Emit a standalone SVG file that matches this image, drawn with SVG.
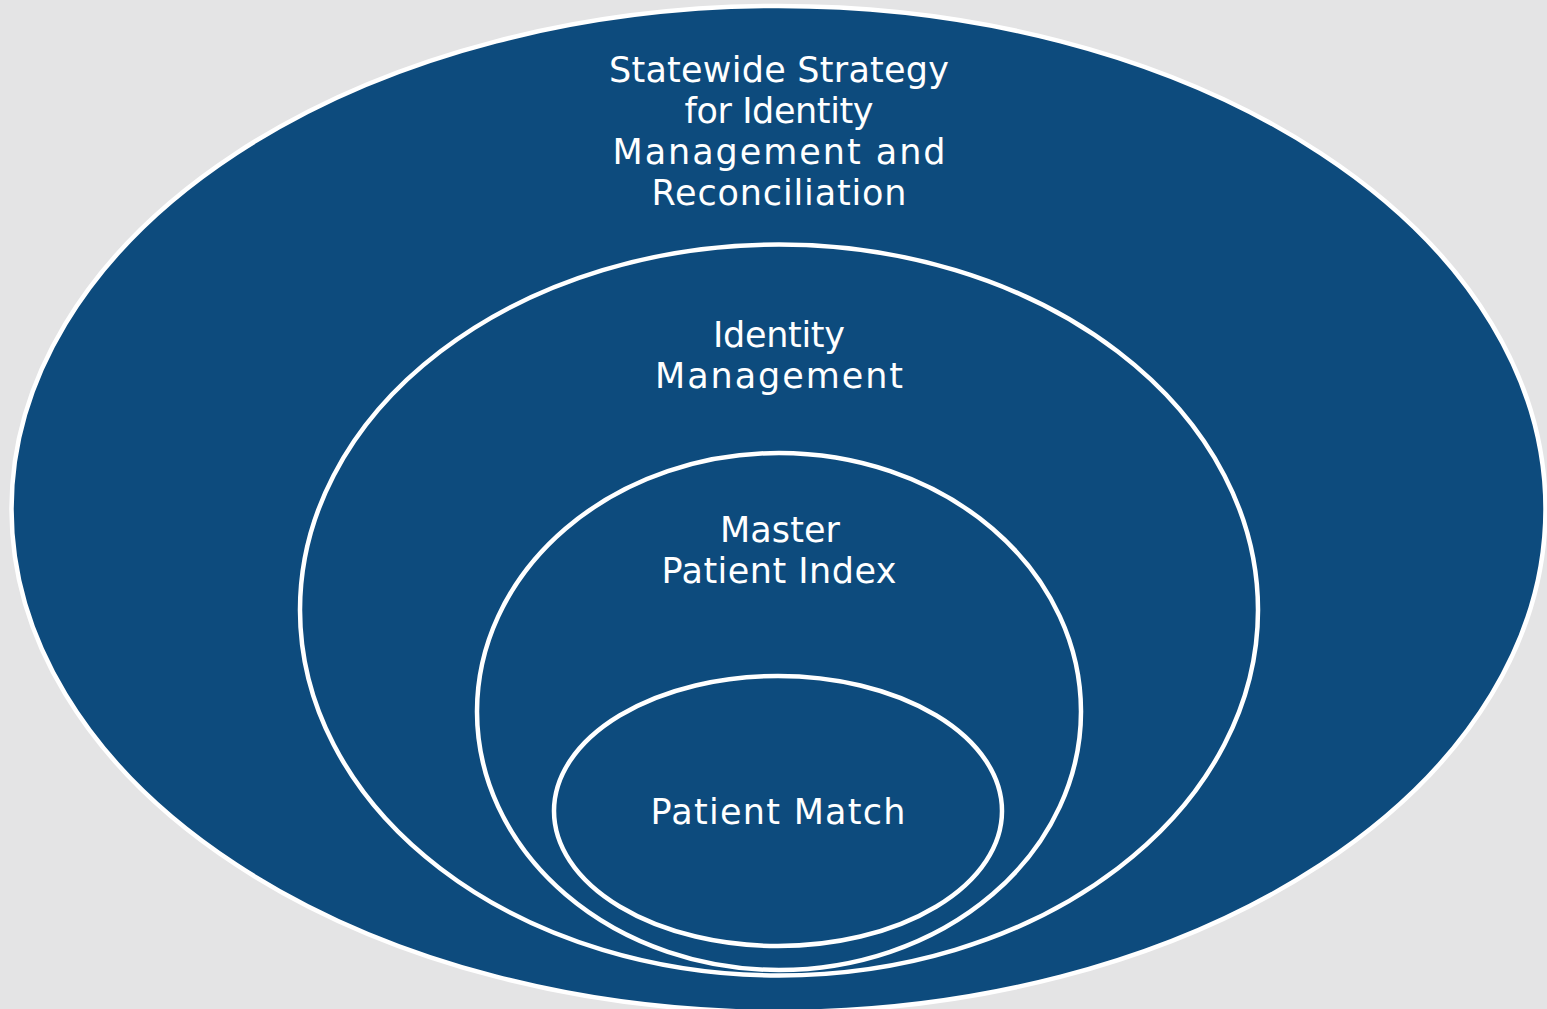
<svg xmlns="http://www.w3.org/2000/svg" width="1547" height="1009" viewBox="0 0 1547 1009">
  <style>
    .ring { fill: #0d4b7d; stroke: #ffffff; stroke-width: 4.5; }
    .lbl { font-family: "DejaVu Sans", "Liberation Sans", sans-serif; font-size: 35px; fill: #ffffff; text-anchor: middle; }
  </style>
  <rect x="0" y="0" width="1547" height="1009" fill="#e4e4e5"/>
  <g id="connectors"></g>
  <g id="statewide-strategy">
    <ellipse class="ring" cx="778.5" cy="509" rx="767" ry="503"/>
    <text class="lbl" x="779" y="82" textLength="340" lengthAdjust="spacing">Statewide Strategy</text>
    <text class="lbl" x="779" y="123" textLength="189" lengthAdjust="spacing">for Identity</text>
    <text class="lbl" x="779" y="164" textLength="333" lengthAdjust="spacing">Management and</text>
    <text class="lbl" x="779" y="205" textLength="255" lengthAdjust="spacing">Reconciliation</text>
  </g>
  <g id="identity-management">
    <ellipse class="ring" cx="779" cy="610" rx="479" ry="365.5"/>
    <text class="lbl" x="779" y="347" textLength="132" lengthAdjust="spacing">Identity</text>
    <text class="lbl" x="779" y="388" textLength="248" lengthAdjust="spacing">Management</text>
  </g>
  <g id="master-patient-index">
    <ellipse class="ring" cx="779" cy="711.5" rx="302" ry="258.5"/>
    <text class="lbl" x="780" y="542" textLength="120" lengthAdjust="spacing">Master</text>
    <text class="lbl" x="779" y="583" textLength="235" lengthAdjust="spacing">Patient Index</text>
  </g>
  <g id="patient-match">
    <ellipse class="ring" cx="778" cy="811" rx="224" ry="135"/>
    <text class="lbl" x="778" y="824" textLength="255" lengthAdjust="spacing">Patient Match</text>
  </g>
</svg>
